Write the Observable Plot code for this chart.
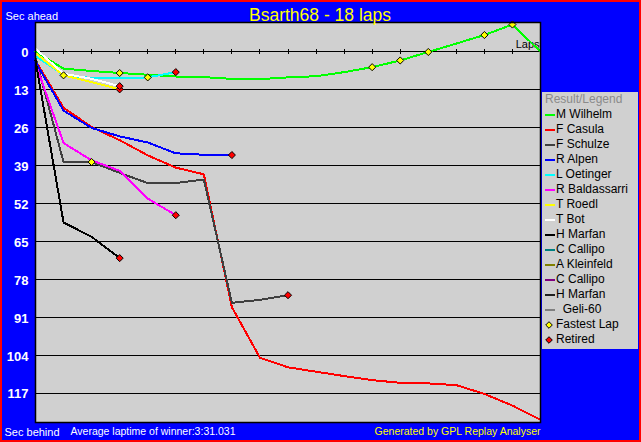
<!DOCTYPE html>
<html>
<head>
<meta charset="utf-8">
<script src="https://cdn.jsdelivr.net/npm/d3@7"></script>
<script src="https://cdn.jsdelivr.net/npm/@observablehq/plot@0.6"></script>
<style>
  html, body { margin: 0; padding: 0; background: #0000ff; }
  #wrap { position: relative; width: 641px; height: 442px; overflow: hidden; background: #0000ff; font-family: "Liberation Sans", Arial, sans-serif; }
  #wrap > svg { position: absolute; left: 0; top: 0; }
  #border { position: absolute; left: 0; top: 0; width: 641px; height: 442px; box-sizing: border-box; border: 2px solid #ff0000; pointer-events: none; }
  #legend { position: absolute; left: 542px; top: 92px; width: 96px; height: 257px; background: #d0d0d0; font-size: 12px; color: #000; }
  .row { height: 15px; line-height: 15px; white-space: pre; display: flex; align-items: center; }
  .lt { color: #8a8a8a; padding-left: 3px; }
  .sw { width: 10px; height: 2px; margin-left: 3px; margin-right: 1px; flex: none; }
  .mk { display: block; width: 8px; height: 8px; margin-left: 3px; margin-right: 3px; flex: none; }
</style>
</head>
<body>
<div id="wrap"></div>
<script>
// ---------- data ----------
const laps = [0, 1, 2, 3, 4, 5, 6, 7, 8, 9, 10, 11, 12, 13, 14, 15, 16, 17, 18];
const yTicks = [0, 13, 26, 39, 52, 65, 78, 91, 104, 117];
const xTickLaps = [1, 2, 3, 4, 5, 6, 7, 8, 9, 10, 11, 12, 13, 14, 15, 16, 17];

const drivers = ["M Wilhelm", "F Casula", "F Schulze", "R Alpen", "L Oetinger", "R Baldassarri", "T Roedl", "T Bot", "H Marfan"];
const wilhelm     = [0, 5.8, 6.6, 7.3, 7.9, 8.5, 8.7, 9.3, 9.4, 8.8, 8.4, 7.0, 5.3, 3.0, 0.1, -2.8, -5.7, -9.3, 0];
const casula      = [3, 19.2, 25.8, 30.3, 35.5, 39.7, 42.0, 87.5, 104.8, 108.1, 109.6, 111.1, 112.5, 113.4, 113.6, 114.2, 117.2, 121.2, 126.1];
const schulze     = [2, 37.8, 37.8, 41.5, 45.0, 45.0, 43.8, 86.0, 85.0, 83.4];
const alpen       = [3.5, 20.2, 26.1, 29.0, 31.1, 34.8, 35.3, 35.4];
const oetinger    = [1.5, 8.0, 9.0, 9.1, 8.8, 7.0];
const baldassarri = [4, 31.3, 37.2, 40.8, 50.3, 56.0];
const roedl       = [0.5, 8.1, 10.4, 12.9];
const bot         = [-1, 7.5, 9.3, 11.8];
const marfan      = [3, 58.5, 63.4, 70.7];
const series = [wilhelm, casula, schulze, alpen, oetinger, baldassarri, roedl, bot, marfan];

const retiredDrivers = ["F Schulze", "R Alpen", "L Oetinger", "R Baldassarri", "T Roedl", "T Bot", "H Marfan"];
const fastestDriver = ["T Roedl", "F Schulze", "M Wilhelm", "L Oetinger", "M Wilhelm", "M Wilhelm", "M Wilhelm", "M Wilhelm", "M Wilhelm"];
const fastestLap    = [1, 2, 3, 4, 12, 13, 14, 16, 17];

const legendNames = ["M Wilhelm", "F Casula", "F Schulze", "R Alpen", "L Oetinger", "R Baldassarri", "T Roedl", "T Bot", "H Marfan", "C Callipo", "A Kleinfeld", "C Callipo", "H Marfan", "  Geli-60"];

const title = "Bsarth68 - 18 laps";
const yTopLabel = "Sec ahead";
const yBottomLabel = "Sec behind";
const avgText = "Average laptime of winner:3:31.031";
const genText = "Generated by GPL Replay Analyser";
const lapsLabel = "Laps";

// ---------- styles ----------
const lineColors = ["#00ff00", "#ff0000", "#404040", "#0000ff", "#00ffff", "#ff00ff", "#ffff00", "#ffffff", "#000000"];
const legendColors = ["#00ff00", "#ff0000", "#404040", "#0000ff", "#00ffff", "#ff00ff", "#ffff00", "#ffffff", "#000000", "#008080", "#808000", "#800080", "#202020", "#808080"];

// ---------- derived tables ----------
const seriesOf = Object.fromEntries(drivers.map((n, k) => [n, series[k]]));
const retired = retiredDrivers.map(n => {
  const s = seriesOf[n];
  return {driver: n, lap: laps[s.length - 1], sec: s[s.length - 1]};
});
const fastest = fastestDriver.map((n, k) => ({driver: n, lap: fastestLap[k], sec: seriesOf[n][fastestLap[k]]}));

const lineMarks = drivers.map((name, k) =>
  Plot.line(series[k].map((sec, i) => ({lap: laps[i], sec})), {
    x: "lap", y: "sec", stroke: lineColors[k], strokeWidth: 2, shapeRendering: "crispEdges"
  })
);

const font = "Liberation Sans, Arial, sans-serif";

const chart = Plot.plot({
  width: 641,
  height: 442,
  marginLeft: 35,
  marginRight: 101,
  marginTop: 22,
  marginBottom: 20,
  style: {background: "#0000ff", fontFamily: font, overflow: "visible"},
  x: {domain: [0, 18], axis: null},
  y: {domain: [-10, 127], reverse: true, axis: null},
  marks: [
    Plot.frame({fill: "#d0d0d0"}),
    Plot.ruleY(yTicks, {stroke: "#000", strokeWidth: 1, shapeRendering: "crispEdges"}),
    Plot.ruleX(xTickLaps, {x: d => d, y1: () => 0, y2: () => 0, insetTop: -2.5, insetBottom: -2.5, stroke: "#000", shapeRendering: "crispEdges"}),
    Plot.text([lapsLabel], {x: () => 18, y: () => 0, text: d => d, textAnchor: "end", dx: -1, dy: -7, fontSize: 11, fill: "#000"}),
    ...lineMarks,
    Plot.dot(fastest, {x: "lap", y: "sec", symbol: "diamond2", r: 3.2, fill: "#ffff00", stroke: "#000", strokeWidth: 1}),
    Plot.dot(retired, {x: "lap", y: "sec", symbol: "diamond2", r: 3.2, fill: "#ff0000", stroke: "#000", strokeWidth: 1}),
    Plot.frame({stroke: "#000", strokeWidth: 1.5}),
    Plot.text(yTicks, {y: d => d, text: d => String(d), frameAnchor: "left", textAnchor: "end", dx: -7, dy: 1, fill: "#fff", fontWeight: "bold", fontSize: 13}),
    Plot.text([title], {text: d => d, frameAnchor: "top", lineAnchor: "middle", dx: 32, dy: -7.6, fill: "#ffff00", fontSize: 17.5}),
    Plot.text([yTopLabel], {text: d => d, frameAnchor: "top-left", lineAnchor: "middle", textAnchor: "start", dx: -30, dy: -6.5, fill: "#fff", fontSize: 11}),
    Plot.text([yBottomLabel], {text: d => d, frameAnchor: "bottom-left", lineAnchor: "middle", textAnchor: "start", dx: -31, dy: 9.5, fill: "#fff", fontSize: 11}),
    Plot.text([avgText], {text: d => d, frameAnchor: "bottom-left", lineAnchor: "middle", textAnchor: "start", dx: 35, dy: 9.5, fill: "#fff", fontSize: 10.5}),
    Plot.text([genText], {text: d => d, frameAnchor: "bottom-right", lineAnchor: "middle", textAnchor: "end", dx: 0, dy: 9.5, fill: "#ffff00", fontSize: 10.5})
  ]
});

const wrap = document.getElementById("wrap");
wrap.appendChild(chart);

// ---------- legend ----------
const legend = document.createElement("div");
legend.id = "legend";
let html = `<div class="row lt">Result/Legend</div>`;
legendNames.forEach((n, k) => {
  html += `<div class="row"><span class="sw" style="background:${legendColors[k]}"></span><span>${n}</span></div>`;
});
const diamond = c => `<svg class="mk" width="8" height="8" viewBox="-4 -4 8 8"><path d="M0,-3.3L3.3,0L0,3.3L-3.3,0Z" fill="${c}" stroke="#000" stroke-width="1"/></svg>`;
html += `<div class="row">${diamond("#ffff00")}<span>Fastest Lap</span></div>`;
html += `<div class="row">${diamond("#ff0000")}<span>Retired</span></div>`;
legend.innerHTML = html;
wrap.appendChild(legend);

const border = document.createElement("div");
border.id = "border";
wrap.appendChild(border);
</script>
</body>
</html>
